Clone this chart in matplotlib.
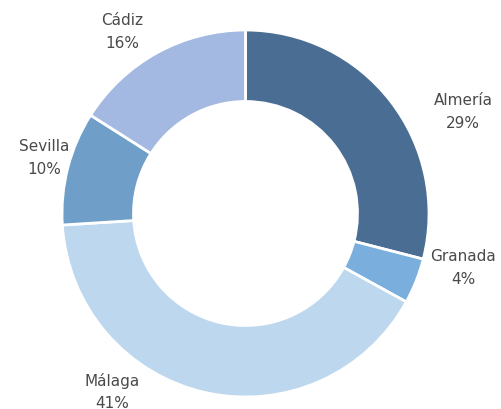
import matplotlib
matplotlib.use('Agg')
import matplotlib.pyplot as plt

# Data
lstCat = ['Almería', 'Granada', 'Málaga', 'Sevilla', 'Cádiz']
lstPct = [29, 4, 41, 10, 16]
lstClr = ['#4a6e93', '#7aaedc', '#bdd7ee', '#6f9fc8', '#a3b9e1']

# Label positions in pixels (x, y from top), one per category
lstLblPos = [(463, 112), (463, 268), (112, 392), (44, 158), (122, 32)]

varW, varH = 502, 410
fgr01 = plt.figure(figsize=(varW / 100.0, varH / 100.0), dpi=100)
axs01 = fgr01.add_axes([0, 0, 1, 1])

# Donut
axs01.pie(lstPct,
          colors=lstClr,
          startangle=90,
          counterclock=False,
          center=(245.5, varH - 214.5),
          radius=183.5,
          wedgeprops=dict(width=71.5, edgecolor='white', linewidth=2.0))

# Labels
for idx in range(len(lstCat)):
    varX, varY = lstLblPos[idx]
    axs01.text(varX, varH - varY,
               '{}\n{}%'.format(lstCat[idx], lstPct[idx]),
               ha='center', va='center',
               family='DejaVu Sans',
               fontsize=11, color='#4a4a4a',
               linespacing=1.65)

axs01.set_xlim(0, varW)
axs01.set_ylim(0, varH)
axs01.set_aspect('equal')
axs01.axis('off')

fgr01.savefig('out.png', dpi=100, facecolor='w')
plt.close(fgr01)
